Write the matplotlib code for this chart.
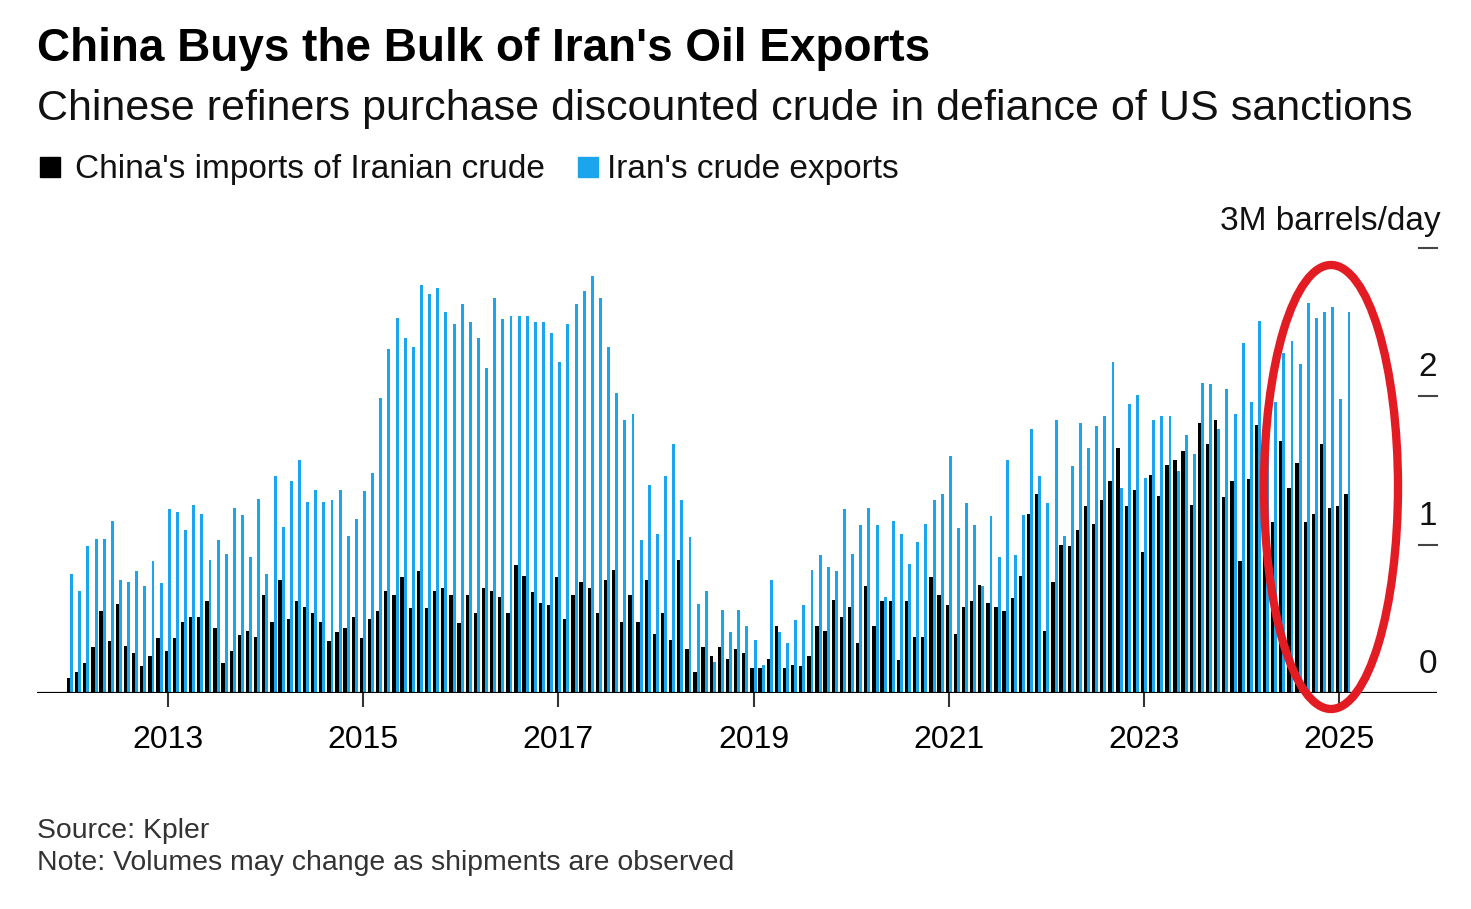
import numpy as np
import pandas as pd
import matplotlib
matplotlib.use("Agg")
import matplotlib.pyplot as plt
from matplotlib.patches import Rectangle, Ellipse
import matplotlib.transforms as mtransforms

plt.rcParams['font.family'] = ['Liberation Sans', 'DejaVu Sans']

# monthly values, Jan 2012 - Feb 2025, million barrels/day
china_imports = [
    0.10, 0.14, 0.20, 0.31, 0.55, 0.35, 0.60, 0.32, 0.27, 0.18, 0.25, 0.37,   # 2012
    0.28, 0.37, 0.48, 0.51, 0.51, 0.62, 0.44, 0.20, 0.28, 0.39, 0.42, 0.38,   # 2013
    0.66, 0.48, 0.76, 0.50, 0.62, 0.58, 0.54, 0.48, 0.35, 0.41, 0.44, 0.51,   # 2014
    0.37, 0.50, 0.55, 0.69, 0.66, 0.78, 0.57, 0.82, 0.57, 0.69, 0.71, 0.66,   # 2015
    0.47, 0.66, 0.54, 0.71, 0.69, 0.65, 0.54, 0.86, 0.79, 0.68, 0.61, 0.59,   # 2016
    0.78, 0.50, 0.66, 0.75, 0.71, 0.54, 0.76, 0.83, 0.48, 0.66, 0.48, 0.76,   # 2017
    0.40, 0.54, 0.36, 0.90, 0.30, 0.14, 0.31, 0.25, 0.31, 0.23, 0.30, 0.27,   # 2018
    0.17, 0.17, 0.23, 0.45, 0.17, 0.19, 0.18, 0.25, 0.45, 0.42, 0.63, 0.51,   # 2019
    0.58, 0.34, 0.72, 0.45, 0.62, 0.62, 0.22, 0.62, 0.38, 0.38, 0.78, 0.66,   # 2020
    0.59, 0.40, 0.58, 0.62, 0.73, 0.61, 0.58, 0.55, 0.64, 0.79, 1.21, 1.34,   # 2021
    0.42, 0.75, 1.00, 0.99, 1.10, 1.26, 1.14, 1.30, 1.43, 1.65, 1.26, 1.37,   # 2022
    0.95, 1.47, 1.33, 1.54, 1.57, 1.63, 1.27, 1.82, 1.68, 1.84, 1.32, 1.43,   # 2023
    0.89, 1.44, 1.81, 1.35, 1.15, 1.70, 1.38, 1.55, 1.15, 1.21, 1.68, 1.25,   # 2024
    1.26, 1.34,                                                               # 2025
]
iran_exports = [
    0.80, 0.69, 0.99, 1.04, 1.04, 1.16, 0.76, 0.75, 0.82, 0.72, 0.89, 0.74,
    1.24, 1.22, 1.10, 1.27, 1.21, 0.90, 1.03, 0.94, 1.25, 1.20, 0.92, 1.31,
    0.80, 1.46, 1.12, 1.43, 1.57, 1.29, 1.37, 1.29, 1.30, 1.37, 1.06, 1.17,
    1.36, 1.48, 1.99, 2.32, 2.53, 2.39, 2.33, 2.75, 2.69, 2.73, 2.57, 2.49,
    2.62, 2.50, 2.39, 2.19, 2.66, 2.52, 2.54, 2.54, 2.54, 2.50, 2.50, 2.43,
    2.23, 2.49, 2.62, 2.71, 2.81, 2.66, 2.33, 2.02, 1.84, 1.88, 1.03, 1.40,
    1.07, 1.46, 1.68, 1.30, 1.05, 0.60, 0.69, 0.21, 0.56, 0.41, 0.56, 0.45,
    0.36, 0.19, 0.76, 0.41, 0.34, 0.49, 0.59, 0.83, 0.93, 0.85, 0.82, 1.24,
    0.94, 1.13, 1.25, 1.13, 0.65, 1.16, 1.07, 0.87, 1.02, 1.14, 1.30, 1.34,
    1.60, 1.11, 1.28, 1.13, 0.72, 1.19, 0.92, 1.57, 0.93, 1.20, 1.78, 1.46,
    1.28, 1.84, 1.06, 1.53, 1.82, 1.65, 1.80, 1.87, 2.23, 1.38, 1.95, 2.01,
    1.45, 1.84, 1.87, 1.87, 1.50, 1.74, 1.61, 2.09, 2.08, 1.78, 2.05, 1.88,
    2.36, 1.96, 2.51, 1.95, 1.96, 2.29, 2.37, 2.22, 2.63, 2.53, 2.57, 2.60,
    1.98, 2.57,
]
year_ticks = [2013, 2015, 2017, 2019, 2021, 2023, 2025]
y_ticks = [0, 1, 2, 3]

dates = pd.date_range("2012-01-01", periods=len(china_imports), freq="MS")
t = dates.year + (dates.month - 1) / 12.0

BLUE = '#1ba5ec'
W, H = 1471, 909

def fx(px):
    return px / W

def fy(py):
    return 1 - py / H

fig = plt.figure(figsize=(W / 100, H / 100), dpi=100)
ax = fig.add_axes([fx(37), fy(693), fx(1437) - fx(37), fy(248) - fy(693)])

ax.bar(t - 0.017, china_imports, width=0.034, color='black', linewidth=0)
ax.bar(t + 0.015, iran_exports, width=0.030, color=BLUE, linewidth=0)

ax.set_xlim(2011.66, 2026.0)
ax.set_ylim(0, 3)
for s in ax.spines.values():
    s.set_visible(False)
ax.axhline(0, color='black', lw=1.6, zorder=3)

ax.set_yticks([])
ax.set_xticks(year_ticks)
ax.set_xticklabels([str(y) for y in year_ticks], fontsize=23)
ax.tick_params(axis='x', length=10, width=1.5, color='#333333', pad=13)

# right-side value markers
trans = mtransforms.blended_transform_factory(ax.transAxes, ax.transData)
for v in y_ticks:
    if v > 0:
        ax.plot([0.987, 1.0], [v, v], color='#444444', lw=1.5,
                transform=trans, clip_on=False)
    if v < 3:
        ax.text(0.9936, v + 0.135, str(v), transform=trans, ha='center',
                va='baseline', fontsize=24, color='#111111')

fig.text(fx(1441), fy(230), '3M barrels/day', ha='right', va='baseline',
         fontsize=24, color='#111111')

# titles
fig.text(fx(37), fy(61), "China Buys the Bulk of Iran's Oil Exports",
         fontsize=33, fontweight='bold', va='baseline', color='black')
fig.text(fx(37), fy(120),
         "Chinese refiners purchase discounted crude in defiance of US sanctions",
         fontsize=31, va='baseline', color='#111111')

# legend
fig.patches.append(Rectangle((fx(40), fy(177)), fx(20), 20 / H,
                             transform=fig.transFigure, color='black'))
fig.text(fx(75), fy(178), "China's imports of Iranian crude", fontsize=24,
         va='baseline', color='#111111')
fig.patches.append(Rectangle((fx(578), fy(177)), fx(20), 20 / H,
                             transform=fig.transFigure, color=BLUE))
fig.text(fx(607), fy(178), "Iran's crude exports", fontsize=24,
         va='baseline', color='#111111')

# footer
fig.text(fx(37), fy(838), "Source: Kpler", fontsize=20.4, va='baseline',
         color='#333333')
fig.text(fx(37), fy(870), "Note: Volumes may change as shipments are observed",
         fontsize=20.4, va='baseline', color='#333333')

# red highlight ellipse around the latest months
ell = Ellipse((fx(1331), fy(487)), width=134 / W, height=444 / H,
              transform=fig.transFigure, fill=False, edgecolor='#e31b23',
              linewidth=6, zorder=10)
fig.add_artist(ell)

fig.savefig('out.png', dpi=100, facecolor='white')
